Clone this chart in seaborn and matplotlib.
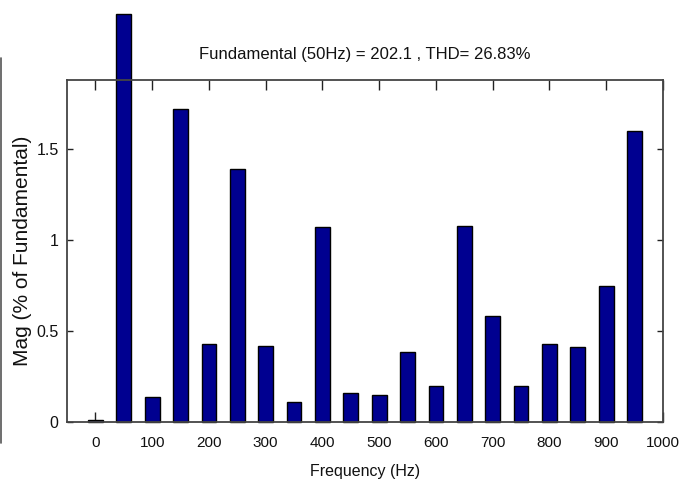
import numpy as np
import pandas as pd
import seaborn as sns
import matplotlib.pyplot as plt
from matplotlib.lines import Line2D

# harmonic spectrum, magnitudes in % of fundamental
freqs = [0, 50, 100, 150, 200, 250, 300, 350, 400, 450,
         500, 550, 600, 650, 700, 750, 800, 850, 900, 950]
# the 50 Hz bar runs off the top of the axes; height as drawn in the picture
mags = [0.01, 2.24, 0.137, 1.72, 0.43, 1.39, 0.42, 0.11, 1.07, 0.16,
        0.15, 0.385, 0.20, 1.08, 0.58, 0.20, 0.43, 0.41, 0.75, 1.60]
xticks = list(range(0, 1001, 100))
yticks = [0, 0.5, 1, 1.5]
ytick_labels = ["0", "0.5", "1", "1.5"]
title = "Fundamental (50Hz) = 202.1 , THD= 26.83%"

sns.set_style("ticks")
plt.rcParams["font.family"] = ["Liberation Sans", "DejaVu Sans"]
plt.rcParams["text.color"] = "#111111"
plt.rcParams["xtick.labelcolor"] = "#111111"
plt.rcParams["ytick.labelcolor"] = "#111111"

fig = plt.figure(figsize=(6.8, 4.83), dpi=100)
ax = fig.add_axes([0.0985, 0.1263, 0.8765, 0.7081])

df = pd.DataFrame({"freq": freqs, "mag": mags})
sns.barplot(data=df, x="freq", y="mag", native_scale=True, width=0.52,
            color="#000090", saturation=1, edgecolor="black", linewidth=1,
            errorbar=None, ax=ax)
for p in ax.patches:
    p.set_clip_on(False)

ax.set_xlim(-50, 1000)
ax.set_ylim(0, 1.88)
ax.set_xticks(xticks)
ax.set_xticklabels([str(t) for t in xticks], fontsize=11)
ax.set_yticks(yticks)
ax.set_yticklabels(ytick_labels, fontsize=11.5)
ax.tick_params(axis="x", direction="in", length=7.5, width=1, color="#222222",
               top=True, pad=10)
ax.tick_params(axis="y", direction="in", length=4.5, width=1, color="#222222",
               right=True, pad=6)
for s in ax.spines.values():
    s.set_visible(True)
    s.set_color("#444444")
    s.set_linewidth(1.3)

ax.set_title(title, fontsize=12, pad=15, color="#111111")
ax.set_xlabel("Frequency (Hz)", fontsize=11.5, labelpad=10, color="#111111")
ax.set_ylabel("Mag (% of Fundamental)", fontsize=15, color="#111111")
ax.yaxis.set_label_coords(-0.059, 0.5)

# stray border line at the left edge of the source image
fig.add_artist(Line2D([0.002, 0.002], [0.083, 0.88], color="#555555", lw=1.2))

fig.savefig("out.png", dpi=100)
